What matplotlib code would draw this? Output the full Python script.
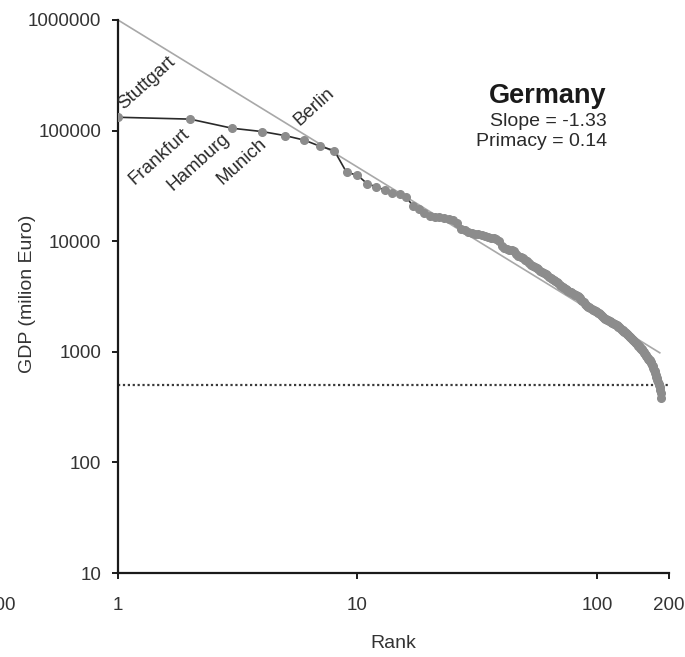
import numpy as np
import matplotlib.pyplot as plt
from matplotlib.ticker import FixedLocator, NullLocator

plt.rcParams['font.family'] = ['Liberation Sans', 'DejaVu Sans']

# GDP (million Euro) by rank
gdp = [
    132000, 127000, 105000, 98000, 90000, 82000, 72000, 66000, 42000, 39500,
    33000, 31000, 29000, 27500, 26500, 25000, 21000, 19500, 18000, 17000,
    16600, 16400, 16200, 16000, 15500, 14600, 13000, 12500, 12100, 11900,
    11700, 11500, 11300, 11100, 11000, 10800, 10700, 10500, 10100, 9000,
    8600, 8500, 8400, 8300, 8100, 7700, 7400, 7200, 7000, 6800,
    6600, 6400, 6100, 5950, 5850, 5700, 5550, 5400, 5300, 5150,
    5000, 4900, 4750, 4650, 4550, 4450, 4350, 4250, 4150, 4050,
    3950, 3850, 3780, 3700, 3620, 3560, 3500, 3440, 3380, 3330,
    3280, 3230, 3180, 3120, 3050, 2970, 2880, 2800, 2720, 2650,
    2600, 2560, 2520, 2480, 2430, 2400, 2380, 2350, 2320, 2290,
    2260, 2230, 2190, 2150, 2110, 2070, 2030, 2000, 1970, 1940,
    1920, 1900, 1880, 1860, 1845, 1830, 1810, 1790, 1770, 1750,
    1730, 1700, 1680, 1660, 1640, 1610, 1590, 1570, 1550, 1520,
    1500, 1480, 1460, 1440, 1410, 1390, 1370, 1350, 1330, 1310,
    1290, 1270, 1250, 1230, 1210, 1190, 1175, 1160, 1140, 1120,
    1100, 1085, 1070, 1055, 1040, 1020, 1000, 985, 965, 945,
    925, 905, 885, 865, 850, 835, 820, 805, 787, 765,
    740, 715, 690, 665, 640, 620, 596, 575, 555, 535,
    515, 500, 483, 455, 420, 385,
]
rank = np.arange(1, len(gdp) + 1)

# fitted power law: 1e6 * rank^slope
fit_start = 1e6
slope = -1.33
fit_rank = [1, 183]
threshold = 500

cities = ['Stuttgart', 'Frankfurt', 'Hamburg', 'Munich', 'Berlin']
city_pos = [(1.08, 145000), (1.2, 30000), (1.73, 26500), (2.8, 30000), (5.9, 104000)]

fig = plt.figure(figsize=(6.85, 6.57), dpi=100)
ax = fig.add_axes([118 / 685, 1 - 573 / 657, (669 - 118) / 685, (573 - 20) / 657])

fr = np.array(fit_rank, dtype=float)
ax.plot(fr, fit_start * fr ** slope, color='#a8a8a8', lw=1.2, zorder=2)
ax.axhline(threshold, color='#3a3a3a', ls=(0, (1, 1.2)), lw=1.6, zorder=1)
ax.plot(rank, gdp, color='#2a2a2a', lw=1.2, marker='o', ms=5.5,
        mfc='#8c8c8c', mec='#8c8c8c', zorder=3)

ax.set_xscale('log')
ax.set_yscale('log')
ax.set_xlim(1, 200)
ax.set_ylim(10, 1e6)

ax.xaxis.set_major_locator(FixedLocator([1, 10, 100, 200]))
ax.xaxis.set_minor_locator(NullLocator())
ax.set_xticklabels(['1', '10', '100', '200'])
yt = [10, 100, 1000, 10000, 100000, 1000000]
ax.yaxis.set_major_locator(FixedLocator(yt))
ax.yaxis.set_minor_locator(NullLocator())
ax.set_yticklabels([str(v) for v in yt])

for s in ['top', 'right']:
    ax.spines[s].set_visible(False)
for s in ['left', 'bottom']:
    ax.spines[s].set_linewidth(1.6)
    ax.spines[s].set_color('#1a1a1a')
ax.tick_params(axis='both', direction='out', length=4, width=1.4, colors='#1a1a1a',
               labelsize=13.5, labelcolor='#333333')
ax.tick_params(axis='x', pad=13)
ax.tick_params(axis='y', pad=8)

ax.set_xlabel('Rank', fontsize=14, color='#333333')
ax.xaxis.set_label_coords(0.5, -0.113)
ax.set_ylabel('GDP (milion Euro)', fontsize=14, color='#333333')
ax.yaxis.set_label_coords(-0.149, 0.505)

for name, (xr, yv) in zip(cities, city_pos):
    ax.text(xr, yv, name, rotation=42, rotation_mode='anchor', ha='left', va='bottom',
            fontsize=13.5, color='#2a2a2a')

ax.text(0.887, 0.863, 'Germany', transform=ax.transAxes, ha='right', va='center',
        fontsize=19.5, fontweight='bold', color='#1a1a1a')
ax.text(0.887, 0.816, 'Slope = -1.33', transform=ax.transAxes, ha='right', va='center',
        fontsize=14, color='#2a2a2a')
ax.text(0.887, 0.780, 'Primacy = 0.14', transform=ax.transAxes, ha='right', va='center',
        fontsize=14, color='#2a2a2a')

# cut-off tick label of the neighbouring panel
fig.text(16 / 685, 1 - 605 / 657, '200', ha='right', va='center', fontsize=13.5, color='#333333')

fig.savefig('out.png', dpi=100)
